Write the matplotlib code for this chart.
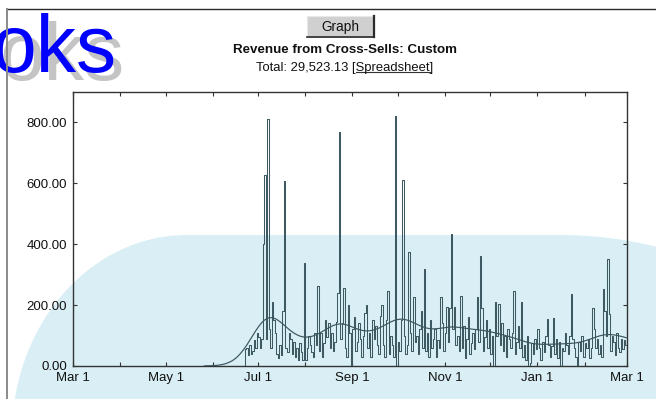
import numpy as np
import pandas as pd
import matplotlib
matplotlib.use("Agg")
import matplotlib.pyplot as plt
import matplotlib.dates as mdates
from matplotlib.patches import Polygon, Rectangle
from matplotlib.lines import Line2D
from matplotlib.ticker import FuncFormatter

plt.rcParams['font.family'] = ['Liberation Sans', 'DejaVu Sans']

W, H = 656, 399

# ---- data -------------------------------------------------------------
period_start = "2002-03-01"
period_end = "2003-03-01"
first_sale = "2002-06-22"
lead_in_days = 27          # zero-revenue days shown before the first sale
trend_sigma_days = 9.5

daily_revenue = [
    55, 60, 35, 70, 40, 50, 85, 60, 110, 95,
    60, 90, 400, 626, 90, 810, 120, 60, 210, 150,
    110, 40, 25, 70, 35, 180, 607, 60, 45, 110,
    90, 40, 80, 30, 60, 20, 75, 45, 20, 338,
    20, 60, 100, 70, 45, 30, 110, 70, 264, 50,
    110, 30, 75, 150, 95, 140, 60, 110, 50, 80,
    145, 240, 767, 90, 140, 256, 60, 30, 200, 110,
    0, 120, 160, 50, 80, 140, 90, 30, 100, 175,
    202, 60, 110, 30, 150, 90, 130, 70, 40, 165,
    200, 70, 30, 150, 245, 40, 100, 70, 30, 820,
    0, 80, 50, 150, 610, 100, 40, 70, 374, 110,
    50, 226, 80, 100, 40, 120, 182, 60, 318, 50,
    110, 30, 150, 60, 90, 120, 30, 85, 60, 226,
    140, 50, 110, 195, 80, 190, 433, 120, 195, 70,
    100, 50, 231, 60, 130, 25, 90, 160, 40, 75,
    110, 55, 120, 226, 80, 362, 190, 50, 95, 150,
    60, 120, 40, 100, 0, 209, 100, 205, 70, 140,
    50, 100, 30, 120, 90, 60, 110, 247, 40, 80,
    130, 60, 211, 30, 70, 20, 100, 0, 10, 75,
    40, 90, 55, 120, 60, 20, 80, 45, 100, 155,
    70, 30, 65, 157, 40, 90, 25, 80, 0, 60,
    50, 110, 70, 40, 100, 236, 90, 60, 30, 0,
    80, 50, 100, 30, 75, 60, 90, 25, 60, 190,
    120, 60, 90, 40, 70, 30, 253, 180, 100, 351,
    170, 50, 100, 80, 35, 110, 60, 45, 90, 55, 85, 70,
]

title_text = "Revenue from Cross-Sells: Custom"
total_prefix = "Total: 29,523.13 ["
link_text = "Spreadsheet"
total_suffix = "]"
button_text = "Graph"
banner_text = "oks"
y_ticks = [0, 200, 400, 600, 800]

# ---- series -----------------------------------------------------------
revenue = np.array(daily_revenue, dtype=float)
series_start = pd.Timestamp(first_sale) - pd.Timedelta(days=lead_in_days)
values = np.concatenate([np.zeros(lead_in_days), revenue])
days = pd.date_range(series_start, periods=len(values) + 1, freq="D")
xnum = mdates.date2num(days)

# Gaussian-weighted moving average (trend)
idx = np.arange(len(values), dtype=float)
wts = np.exp(-0.5 * ((idx[:, None] - idx[None, :]) / trend_sigma_days) ** 2)
trend = (wts @ values) / wts.sum(axis=1)
trend_x = xnum[:-1] + 0.5

# ---- figure -----------------------------------------------------------
fig = plt.figure(figsize=(W / 100, H / 100), dpi=100)
fig.patch.set_facecolor("white")


def px(x, y):
    """pixel (from top-left) -> figure fraction"""
    return (x / W, 1 - y / H)


# pale blue backdrop with rounded corners
pts = []
cx, cy, rx, ry = 187, 435, 175, 200
for t in np.linspace(np.pi, 1.5 * np.pi, 60):
    pts.append((cx + rx * np.cos(t), cy + ry * np.sin(t)))
r2 = 400
for t in np.linspace(0, np.arcsin(0.26), 30):
    pts.append((560 + r2 * np.sin(t), 235 + r2 - r2 * np.cos(t)))
pts += [(670, 420), (cx - rx, 420)]
fig.add_artist(Polygon([px(a, b) for a, b in pts], closed=True,
                       transform=fig.transFigure, facecolor="#d9eff5",
                       edgecolor="none", zorder=0))

# banner word with drop shadow
fig.text(*px(0, 80), banner_text, fontsize=58, color="#c4c4c4",
         ha="left", va="baseline", zorder=1)
fig.text(*px(-8, 72), banner_text, fontsize=58, color="#0000ff",
         ha="left", va="baseline", zorder=2)

# page frame lines
fig.add_artist(Line2D([7 / W, 1], [1 - 9 / H, 1 - 9 / H], transform=fig.transFigure,
                      color="#2a2a2a", lw=1.0, zorder=3))
fig.add_artist(Line2D([7 / W, 7 / W], [0, 1 - 9 / H], transform=fig.transFigure,
                      color="#8a8a8a", lw=1.4, zorder=3))

# button
bx0, by0, bx1, by1 = 307, 16, 374, 37
fig.add_artist(Rectangle(px(bx0, by1), (bx1 - bx0) / W, (by1 - by0) / H,
                         transform=fig.transFigure, facecolor="#d0d0d0",
                         edgecolor="#e8e8e8", lw=0.8, zorder=3))
fig.add_artist(Line2D([bx1 / W, bx1 / W], [1 - by0 / H, 1 - by1 / H],
                      transform=fig.transFigure, color="#2a2a2a", lw=1.6, zorder=4))
fig.add_artist(Line2D([bx0 / W, bx1 / W], [1 - by1 / H, 1 - by1 / H],
                      transform=fig.transFigure, color="#2a2a2a", lw=1.2, zorder=4))
fig.text(*px(340.5, 27), button_text, fontsize=9.8, ha="center", va="center",
         color="#111111", zorder=5)

fig.text(*px(345, 50), title_text, fontsize=9.6, fontweight="bold",
         ha="center", va="center", color="#111111")
total_line = fig.text(*px(345, 68), total_prefix + link_text + total_suffix,
                      fontsize=9.4, ha="center", va="center", color="#111111")

# ---- axes -------------------------------------------------------------
ax = fig.add_axes([73 / W, 1 - 366 / H, (627 - 73) / W, (366 - 92) / H])
ax.set_facecolor("none")
ax.step(xnum, np.append(values, values[-1]), where="post",
        color="#3e5961", lw=0.75, zorder=3)
ax.plot(trend_x, trend, color="#3a555e", lw=0.85, zorder=4)

ax.set_xlim(mdates.date2num(pd.Timestamp(period_start)),
            mdates.date2num(pd.Timestamp(period_end)))
ax.set_ylim(0, 900)
ax.set_yticks(y_ticks)
ax.yaxis.set_major_formatter(FuncFormatter(lambda v, p: f"{v:.2f}"))
ax.xaxis.set_major_locator(mdates.MonthLocator(bymonth=[1, 3, 5, 7, 9, 11]))
ax.xaxis.set_minor_locator(mdates.MonthLocator(bymonth=[2, 4, 6, 8, 10, 12]))
ax.xaxis.set_major_formatter(
    FuncFormatter(lambda v, p: f"{mdates.num2date(v):%b} {mdates.num2date(v).day}"))

for s in ax.spines.values():
    s.set_color("#333333")
    s.set_linewidth(1.0)
ax.tick_params(which="both", direction="in", top=True, right=True,
               length=3.2, width=0.8, color="#333333", labelsize=9.5,
               labelcolor="#111111")
ax.tick_params(axis="x", pad=4.2)
ax.tick_params(axis="y", pad=4.5)

# underline under the link word
fig.canvas.draw()
rend = fig.canvas.get_renderer()
tmp = fig.text(0, 0, total_prefix, fontsize=9.4)
w_pre = tmp.get_window_extent(rend).width
tmp.set_text(link_text)
w_link = tmp.get_window_extent(rend).width
tmp.remove()
bb = total_line.get_window_extent(rend)
ux0 = bb.x0 + w_pre
uy = bb.y0 + 2.2
fig.add_artist(Line2D([ux0 / W, (ux0 + w_link) / W], [uy / H, uy / H],
                      transform=fig.transFigure, color="#333333", lw=0.8))

fig.savefig("out.png", dpi=100)
